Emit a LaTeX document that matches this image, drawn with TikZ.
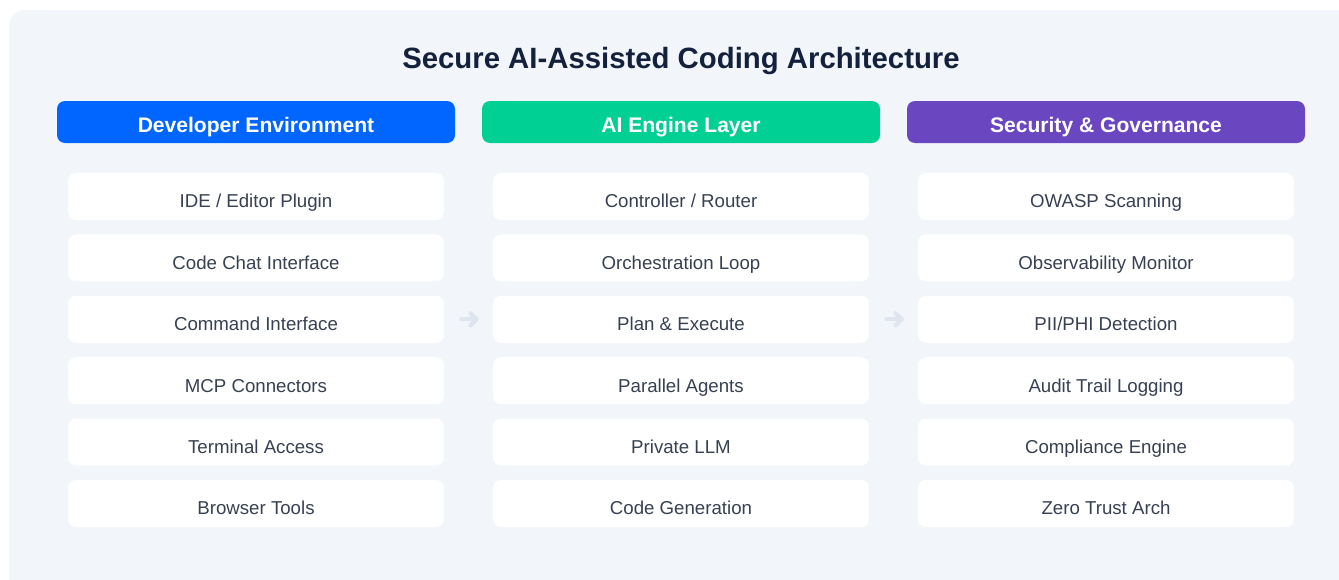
\documentclass[tikz,border=0pt]{standalone}
\usepackage{fontspec}
\usetikzlibrary{calc}
\setmainfont{Liberation Sans}
\definecolor{panelbg}{HTML}{F2F5F9}
\definecolor{titlecol}{HTML}{14213D}
\definecolor{devblue}{HTML}{0066FF}
\definecolor{aigreen}{HTML}{00D094}
\definecolor{secpurple}{HTML}{6B46C1}
\definecolor{itemtext}{HTML}{374151}
\definecolor{arrowcol}{HTML}{DFE5EE}
\tikzset{
  header/.style={rounded corners=6pt, minimum width=298.5pt, minimum height=31.5pt,
    inner sep=0pt, text height=15.4pt, text depth=0pt, text=white,
    font=\fontsize{15.8}{18}\selectfont\bfseries},
  itembox/.style={rounded corners=6pt, fill=white, minimum width=282pt, minimum height=35.25pt,
    inner sep=0pt, text height=17.2pt, text depth=0pt, text=itemtext,
    font=\fontsize{14}{16}\selectfont},
  flowarrow/.style={draw=arrowcol, line width=3.2pt, line cap=round, line join=round}
}
\begin{document}
\begin{tikzpicture}[x=0.75pt, y=-0.75pt]
\useasboundingbox (0,0) rectangle (1339,579);
\begin{scope}
\clip (0,0) rectangle (1339,579);
\fill[panelbg, rounded corners=12pt] (9,10) rectangle (1355,595);
\end{scope}
\node[anchor=base, inner sep=0pt, text=titlecol, font=\fontsize{22}{26}\selectfont\bfseries] (title) at (681,68.3) {Secure AI-Assisted Coding Architecture};
\node[header, fill=devblue] (hdev) at (256,122) {Developer Environment};
\node[header, fill=aigreen] (hai) at (681,122) {AI Engine Layer};
\node[header, fill=secpurple] (hsec) at (1106,122) {Security \& Governance};
% Developer column
\node[itembox] (d1) at (256,196.5) {IDE / Editor Plugin};
\node[itembox] (d2) at (256,257.9) {Code Chat Interface};
\node[itembox] (d3) at (256,319.3) {Command Interface};
\node[itembox] (d4) at (256,380.7) {MCP Connectors};
\node[itembox] (d5) at (256,442.1) {Terminal Access};
\node[itembox] (d6) at (256,503.5) {Browser Tools};
% AI column
\node[itembox] (a1) at (681,196.5) {Controller / Router};
\node[itembox] (a2) at (681,257.9) {Orchestration Loop};
\node[itembox] (a3) at (681,319.3) {Plan \& Execute};
\node[itembox] (a4) at (681,380.7) {Parallel Agents};
\node[itembox] (a5) at (681,442.1) {Private LLM};
\node[itembox] (a6) at (681,503.5) {Code Generation};
% Security column
\node[itembox] (s1) at (1106,196.5) {OWASP Scanning};
\node[itembox] (s2) at (1106,257.9) {Observability Monitor};
\node[itembox] (s3) at (1106,319.3) {PII/PHI Detection};
\node[itembox] (s4) at (1106,380.7) {Audit Trail Logging};
\node[itembox] (s5) at (1106,442.1) {Compliance Engine};
\node[itembox] (s6) at (1106,503.5) {Zero Trust Arch};
% arrows
\coordinate (m1) at ($(d3.east)!0.5!(a3.west)$);
\coordinate (m2) at ($(a3.east)!0.5!(s3.west)$);
\foreach \m in {m1,m2}{
  \draw[flowarrow] ($(\m)+(-7,0)$) -- ($(\m)+(8,0)$);
  \draw[flowarrow] ($(\m)+(2,-6)$) -- ($(\m)+(8,0)$) -- ($(\m)+(2,6)$);
}
\end{tikzpicture}
\end{document}
